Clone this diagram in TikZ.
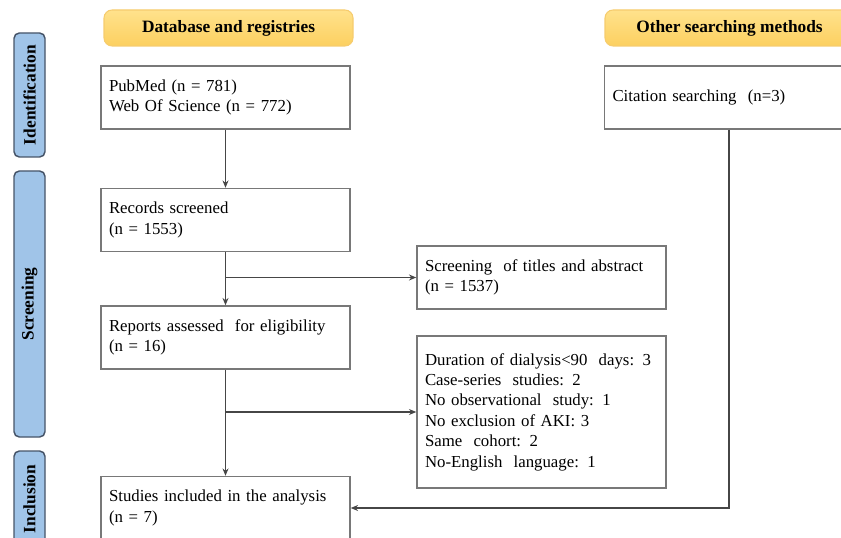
\documentclass[tikz,border=0pt]{standalone}
\usepackage{fontspec}
\setmainfont{Liberation Serif}
\usetikzlibrary{arrows.meta}

\definecolor{stagefill}{RGB}{160,196,232}
\definecolor{stageline}{RGB}{70,84,104}
\definecolor{headtop}{RGB}{255,226,140}
\definecolor{headbot}{RGB}{252,208,96}
\definecolor{headline}{RGB}{246,204,110}
\definecolor{boxline}{RGB}{120,120,120}
\definecolor{flowline}{RGB}{70,70,70}

\tikzset{
  stage/.style={draw=stageline, fill=stagefill, line width=1.1pt, rounded corners=4pt,
    minimum height=31*0.75pt, inner sep=0pt, rotate=90,
    font=\fontsize{13}{15}\selectfont\bfseries},
  head/.style={draw=headline, top color=headtop, bottom color=headbot, line width=0.8pt,
    rounded corners=6pt, minimum width=249*0.75pt, minimum height=36*0.75pt,
    font=\fontsize{13}{15}\selectfont\bfseries},
  box/.style={draw=boxline, fill=white, line width=1.1pt, align=left,
    text width=233*0.75pt, inner xsep=8*0.75pt, inner ysep=0pt,
    minimum height=63*0.75pt, font=\fontsize{12.6}{15.3}\selectfont},
  flow/.style={draw=flowline, line width=0.8pt, -{Stealth[length=5.5pt,width=4.5pt]}}
}

\begin{document}
\begin{tikzpicture}[x=0.75pt, y=-0.75pt]
  \useasboundingbox (0,0) rectangle (841,538);
  \clip (0,0) rectangle (841,538);

  % ---- stages on the left ----
  \node[stage, minimum width=124*0.75pt] (ident) at (29.5,95) {Identification};
  \node[stage, minimum width=266*0.75pt] (scrn) at (29.5,304) {Screening};
  \node[stage, minimum width=96*0.75pt] (incl) at (29.5,499) {Inclusion};

  % ---- column headers ----
  \node[head] (dbhead) at (228.5,28) {Database and registries};
  \node[head] (othhead) at (729.5,28) {Other searching methods};

  % ---- boxes ----
  \node[box] (pub) at (225.5,97.5) {PubMed (n = 781)\\Web Of Science (n = 772)};
  \node[box] (cit) at (729,97.5) {Citation searching\ \ (n=3)};
  \node[box] (rec) at (225.5,220) {Records screened\\(n = 1553)};
  \node[box] (scr) at (541.5,277.5) {Screening\ \ of titles and abstract\\(n = 1537)};
  \node[box] (rep) at (225.5,337.5) {Reports assessed\ \ for eligibility\\(n = 16)};
  \node[box, minimum height=152*0.75pt] (exc) at (541.5,412)
    {Duration of dialysis<90\ \ days: 3\\Case-series\ \ studies: 2\\No observational\ \ study: 1\\
     No exclusion of AKI: 3\\Same\ \ cohort: 2\\No-English\ \ language: 1};
  \node[box] (stu) at (225.5,508) {Studies included in the analysis\\(n = 7)};

  % ---- connectors ----
  \draw[flow] (pub) -- (rec);
  \draw[flow] (rec) -- (rep);
  \draw[flow] (rep) -- (stu);
  \draw[flow] (rec.south |- scr.west) -- (scr);
  \draw[flow] (rep.south |- exc.west) -- (exc);
  \draw[flow] (cit) |- (stu);
\end{tikzpicture}
\end{document}
